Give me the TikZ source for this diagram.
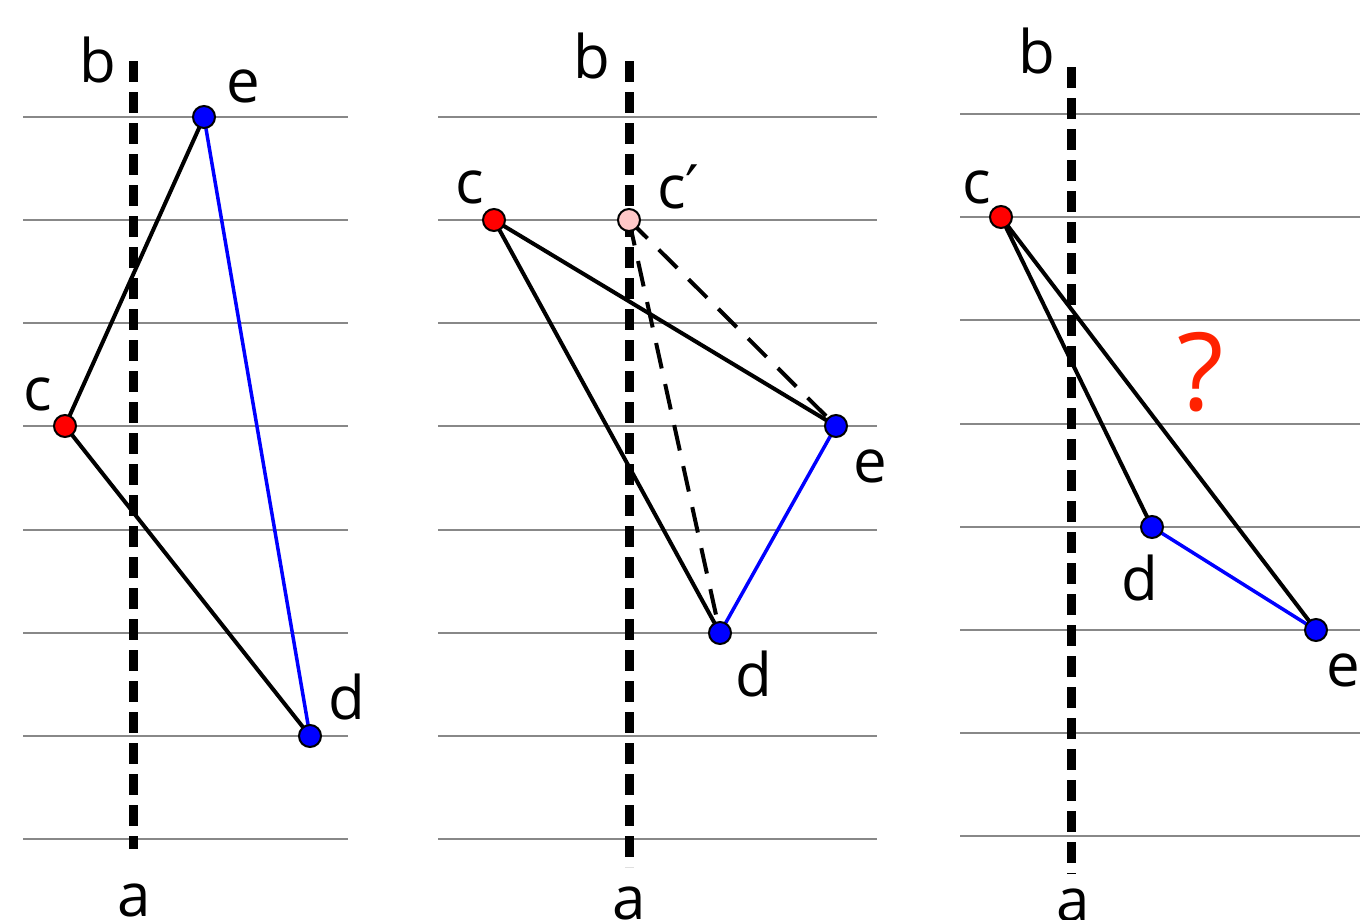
\documentclass[tikz,border=0pt]{standalone}
\usepackage{fontspec}
\setmainfont{Open Sans}
\newfontfamily\dvs{DejaVu Sans}
\definecolor{gridgray}{RGB}{136,136,136}
\definecolor{pinkpt}{RGB}{255,200,200}
\definecolor{qred}{RGB}{255,34,0}
\begin{document}
\begin{tikzpicture}[x=1pt,y=-1pt,
  gridline/.style={draw=gridgray,line width=2.5pt},
  axisline/.style={draw=black,line width=9pt,dash pattern=on 21pt off 10pt},
  seg/.style={draw=black,line width=4pt},
  dseg/.style={draw=black,line width=4pt,dash pattern=on 26pt off 16pt},
  bseg/.style={draw=blue,line width=3.5pt},
  pt/.style={circle,draw=black,line width=2pt,minimum size=22pt,inner sep=0pt},
  lbl/.style={font=\fontsize{60}{72}\selectfont,inner sep=0pt,anchor=center}]
\useasboundingbox (0,0) rectangle (1360,919);
% ---- panel 1
\foreach \y in {117,220,323,426,530,633,736,839} \draw[gridline] (23,\y) -- (348,\y);
\coordinate (t1) at (133,61); \coordinate (b1) at (133,849);
\draw[axisline] (t1) -- (b1);
\coordinate (e1) at (204,117); \coordinate (c1) at (65,426); \coordinate (d1) at (310,736);
\draw[seg] (e1) -- (c1) -- (d1);
\draw[bseg] (e1) -- (d1);
\node[pt,fill=blue] (E1) at (e1) {};
\node[pt,fill=red] (C1) at (c1) {};
\node[pt,fill=blue] (D1) at (d1) {};
\node[lbl] (lb1) at (98,60) {b};
\node[lbl] (le1) at (243,86) {e};
\node[lbl] (lc1) at (38,394) {c};
\node[lbl] (ld1) at (347,697) {d};
\node[lbl] (la1) at (134,900) {a};
% ---- panel 2
\foreach \y in {117,220,323,426,530,633,736,839} \draw[gridline] (438,\y) -- (877,\y);
\coordinate (t2) at (629,61); \coordinate (b2) at (629,867);
\draw[axisline] (t2) -- (b2);
\coordinate (c2) at (494,220); \coordinate (cp2) at (629,220);
\coordinate (e2) at (836,426); \coordinate (d2) at (720,633);
\draw[seg] (d2) -- (c2) -- (e2);
\draw[bseg] (e2) -- (d2);
\draw[dseg] (cp2) -- (e2);
\draw[dseg] (cp2) -- (d2);
\node[pt,fill=red] (C2) at (c2) {};
\node[pt,fill=pinkpt] (CP2) at (cp2) {};
\node[pt,fill=blue] (E2) at (e2) {};
\node[pt,fill=blue] (D2) at (d2) {};
\node[lbl] (lb2) at (592,56) {b};
\node[lbl] (lc2) at (470,187) {c};
\node[lbl,anchor=west] (lcp2) at (657,187) {c{\dvs ′}};
\node[lbl] (le2) at (870,466) {e};
\node[lbl] (ld2) at (754,674) {d};
\node[lbl] (la2) at (629,903) {a};
% ---- panel 3
\foreach \y in {114,217,320,424,527,630,733,836} \draw[gridline] (960,\y) -- (1360,\y);
\coordinate (t3) at (1071,67); \coordinate (b3) at (1071,874);
\draw[axisline] (t3) -- (b3);
\coordinate (c3) at (1001,217); \coordinate (d3) at (1152,527); \coordinate (e3) at (1316,630);
\draw[seg] (d3) -- (c3) -- (e3);
\draw[bseg] (d3) -- (e3);
\node[pt,fill=red] (C3) at (c3) {};
\node[pt,fill=blue] (D3) at (d3) {};
\node[pt,fill=blue] (E3) at (e3) {};
\node[lbl] (lb3) at (1037,51) {b};
\node[lbl] (lc3) at (977,187) {c};
\node[lbl] (ld3) at (1140,578) {d};
\node[lbl] (le3) at (1343,670) {e};
\node[lbl] (la3) at (1073,905) {a};
\node[font=\fontsize{108}{120}\selectfont,text=qred,inner sep=0pt] (q3) at (1201,372) {?};
\end{tikzpicture}
\end{document}
